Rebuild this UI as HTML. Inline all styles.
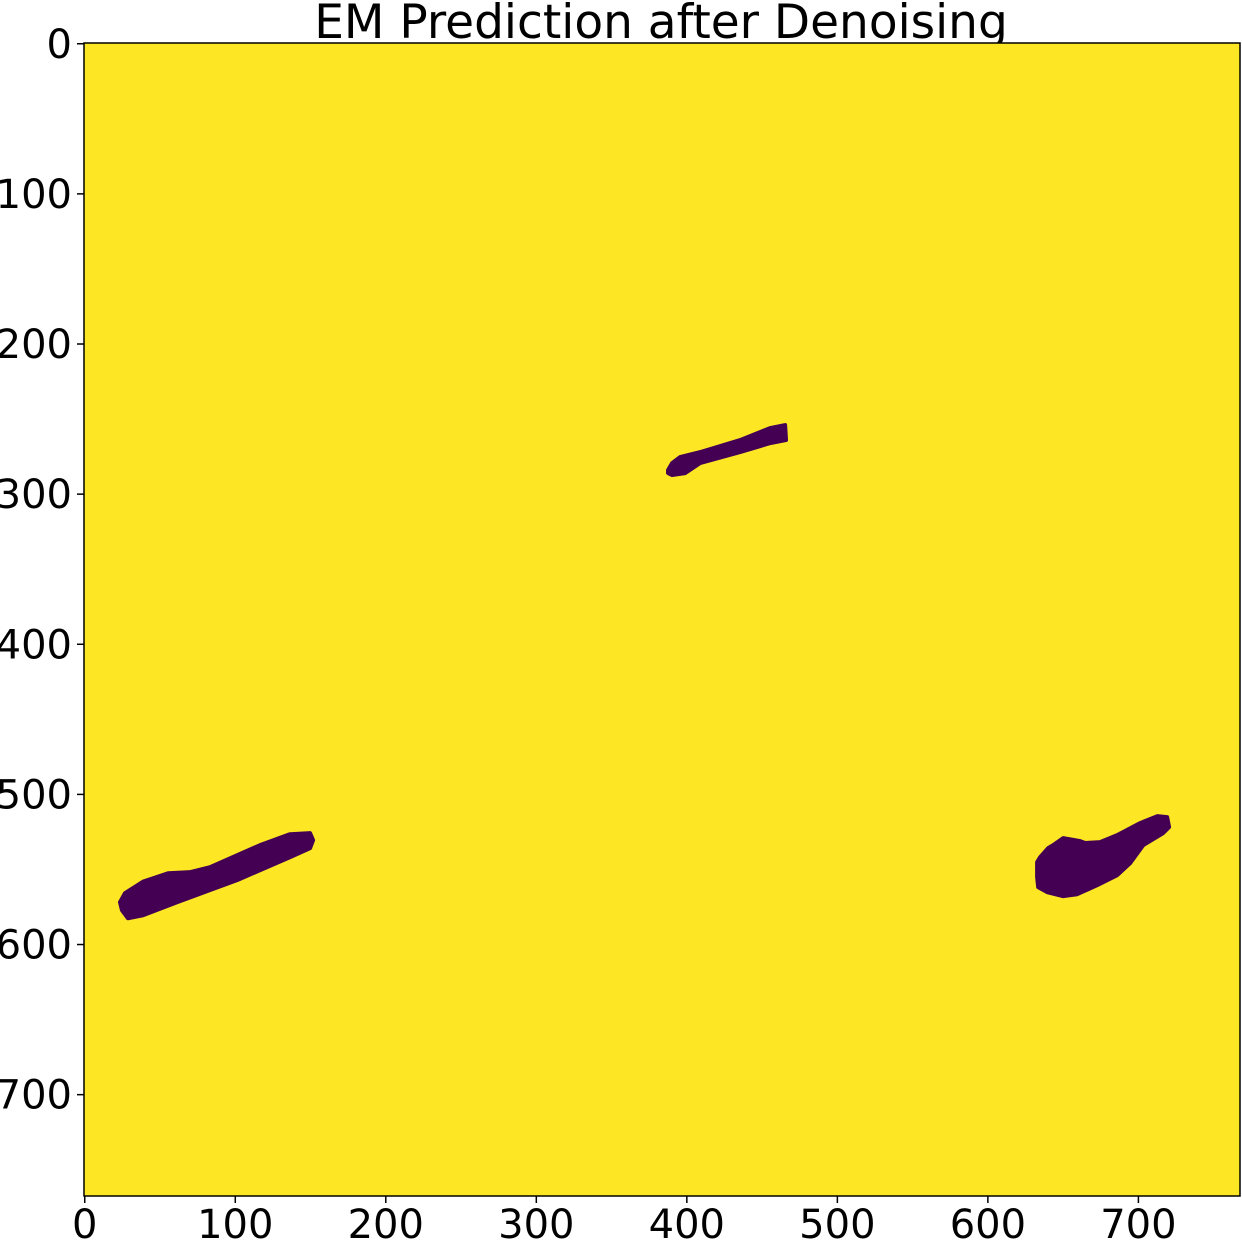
<!DOCTYPE html>
<html><head><meta charset="utf-8"><style>
html,body{margin:0;padding:0;background:#fff;}
svg{display:block;font-family:"DejaVu Sans","Liberation Sans",sans-serif;}
</style></head><body>
<svg id="chart" width="1242" height="1246">
<text x="661" y="38" font-size="47" text-anchor="middle" fill="#000">EM Prediction after Denoising</text>
<g id="plot"></g>
</svg>
<script>
const xTicks = [0,100,200,300,400,500,600,700];
const yTicks = [0,100,200,300,400,500,600,700];
const blobA = [[23.4,571.8],[26.7,565.8],[38.7,558.1],[55.3,552.5],[69.9,551.8],[83.2,548.5],[116.4,533.8],[136.4,526.5],[149.7,525.8],[151.7,530.5],[149.7,535.8],[136.4,541.8],[101.2,557.1],[61.3,571.8],[38.7,580.5],[28.7,582.5],[24.7,577.1]];
const blobB = [[387.5,284.0],[390.2,279.3],[395.5,275.3],[408.8,272.0],[435.4,264.0],[455.3,256.0],[465.3,254.0],[465.9,264.0],[455.3,266.0],[435.4,272.0],[408.8,279.3],[398.9,286.0],[390.2,287.3],[387.5,286.0]];
const blobC = [[632.7,545.1],[634.7,541.8],[640.0,535.8],[643.4,533.8],[650.0,529.1],[661.3,531.1],[664.6,532.4],[674.6,531.8],[685.9,527.1],[701.2,519.1],[712.5,514.5],[719.1,515.1],[720.4,521.8],[716.4,525.8],[703.2,533.8],[694.5,545.8],[685.9,553.8],[672.6,560.5],[659.3,566.5],[650.0,567.8],[639.4,565.1],[633.4,561.8],[632.7,555.1]];

const L=84,R=1240,T=43,B=1196,N=768;
const sx=v=>L+(v+0.5)*(R-L)/N;
const sy=v=>T+(v+0.5)*(B-T)/N;
const NS="http://www.w3.org/2000/svg";
const g=document.getElementById('plot');
function mk(t,a){const e=document.createElementNS(NS,t);for(const k in a)e.setAttribute(k,a[k]);g.appendChild(e);return e;}
const bg=mk('rect',{x:L,y:T,width:R-L,height:B-T,fill:'#fde725'});


[blobA,blobB,blobC].forEach((b,i)=>{
  const p=mk('polygon',{points:b.map(q=>sx(q[0])+','+sy(q[1])).join(' '),fill:'#440154',stroke:'#440154','stroke-width':4,'stroke-linejoin':'round'});
  
  
});
const fr=mk('rect',{x:L,y:T,width:R-L,height:B-T,fill:'none',stroke:'#000','stroke-width':1.5});


xTicks.forEach(v=>{
  const x=sx(v);
  const l=mk('line',{x1:x,x2:x,y1:B,y2:B+7,stroke:'#000','stroke-width':1.5});
  
  
  const t=mk('text',{x:x,y:B+42,'font-size':40,'text-anchor':'middle',fill:'#000'});
  t.textContent=v;
  
  
});
yTicks.forEach(v=>{
  const y=sy(v);
  const l=mk('line',{x1:L-7,x2:L,y1:y,y2:y,stroke:'#000','stroke-width':1.5});
  
  
  const t=mk('text',{x:L-12,y:y+14,'font-size':40,'text-anchor':'end',fill:'#000'});
  t.textContent=v;
  
  
});
</script>
</body></html>
